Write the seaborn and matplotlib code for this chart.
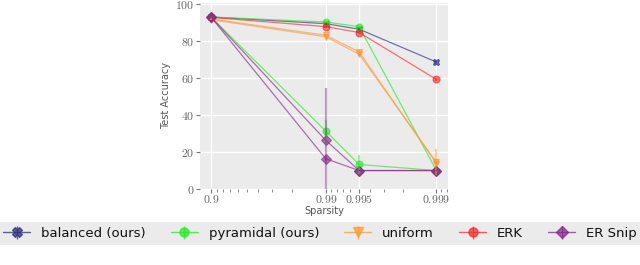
import numpy as np
import pandas as pd
import matplotlib
matplotlib.use("Agg")
import matplotlib.pyplot as plt
import seaborn as sns
from matplotlib.ticker import NullFormatter, FixedLocator

# ---------------- data ----------------
sparsity = [0.9, 0.99, 0.995, 0.999]
x_tick_labels = ["0.9", "0.99", "0.995", "0.999"]
x_minor_ticks = [0.91, 0.92, 0.93, 0.94, 0.95, 0.96, 0.97, 0.98,
                 0.991, 0.992, 0.993, 0.994, 0.996, 0.997, 0.998, 0.9991, 0.9992]
y_ticks = [0, 20, 40, 60, 80, 100]

methods = ["balanced (ours)", "pyramidal (ours)", "uniform", "ERK", "ER Snip"]

balanced_acc = [93.2, 89.6, 86.6, 68.8]
balanced_err = [0.4, 0.6, 0.6, 0.8]

pyramidal_acc_a = [93.2, 90.5, 88.0, 10.0]
pyramidal_err_a = [0.4, 0.6, 0.6, 0.2]
pyramidal_acc_b = [93.2, 31.4, 13.3, 10.0]
pyramidal_err_b = [0.4, 6.0, 5.0, 0.2]

uniform_acc_a = [91.8, 82.5, 73.0, 14.5]
uniform_err_a = [0.4, 0.6, 0.8, 7.0]
uniform_acc_b = [92.2, 83.3, 74.3, 13.8]
uniform_err_b = [0.4, 0.6, 0.8, 1.0]

erk_acc = [93.0, 88.0, 84.8, 59.4]
erk_err = [0.4, 0.6, 0.6, 0.8]

ersnip_acc_a = [93.2, 26.4, 10.0, 10.0]
ersnip_err_a = [0.4, 28.5, 0.3, 0.2]
ersnip_acc_b = [93.2, 16.4, 10.0, 10.0]
ersnip_err_b = [0.4, 1.0, 0.3, 0.2]

series = [
    ("balanced (ours)", "a", balanced_acc, balanced_err),
    ("pyramidal (ours)", "a", pyramidal_acc_a, pyramidal_err_a),
    ("pyramidal (ours)", "b", pyramidal_acc_b, pyramidal_err_b),
    ("uniform", "a", uniform_acc_a, uniform_err_a),
    ("uniform", "b", uniform_acc_b, uniform_err_b),
    ("ERK", "a", erk_acc, erk_err),
    ("ER Snip", "a", ersnip_acc_a, ersnip_err_a),
    ("ER Snip", "b", ersnip_acc_b, ersnip_err_b),
]

palette = {
    "balanced (ours)": "#2e2e80",
    "pyramidal (ours)": "#22ee22",
    "uniform": "#ff9a33",
    "ERK": "#ff2a2a",
    "ER Snip": "#8a2a8a",
}
markers = {
    "balanced (ours)": "X",
    "pyramidal (ours)": "o",
    "uniform": "v",
    "ERK": "o",
    "ER Snip": "D",
}

rows = []
for m, run, acc, err in series:
    for s, a in zip(sparsity, acc):
        rows.append({"method": m, "run": run, "sparsity": s, "acc": a})
df = pd.DataFrame(rows)

# ---------------- style ----------------
sns.set_theme(style="darkgrid", rc={
    "axes.facecolor": "#ebebeb",
    "grid.color": "white",
    "grid.linewidth": 1.0,
})
plt.rcParams["font.family"] = ["DejaVu Sans"]
plt.rcParams["mathtext.fontset"] = "cm"

fig = plt.figure(figsize=(6.4, 2.65), dpi=100)
ax = fig.add_axes([0.3125, 0.2868, 0.387, 0.7019])

sns.lineplot(data=df, x="sparsity", y="acc", hue="method", style="method",
             units="run", estimator=None, hue_order=methods, style_order=methods,
             palette=palette, markers=markers, dashes=False, sort=False,
             linewidth=0.9, markersize=5, alpha=0.65, legend=False, ax=ax)
for ln in ax.lines:
    ln.set_markeredgecolor(ln.get_color())
    ln.set_markeredgewidth(0.8)

for m, run, acc, err in series:
    ax.errorbar(sparsity, acc, yerr=err, fmt="none", ecolor=palette[m],
                elinewidth=1.6, alpha=0.45, capsize=0)

ax.set_xscale("logit")
ax.set_xlim(0.8774, 0.99921)
ax.set_ylim(0, 100.8)
ax.set_xticks(sparsity)
ax.set_xticklabels([f"${t}$" for t in x_tick_labels])
ax.xaxis.set_minor_locator(FixedLocator(x_minor_ticks))
ax.xaxis.set_minor_formatter(NullFormatter())
ax.set_yticks(y_ticks)
ax.set_yticklabels([f"${t}$" for t in y_ticks])
ax.grid(True, which="major", color="white", linewidth=1.0)
ax.grid(False, which="minor")
for sp in ax.spines.values():
    sp.set_visible(False)

ax.tick_params(axis="both", which="major", length=3, width=0.8, color="#777777",
               labelsize=8.5, labelcolor="#666666", bottom=True, left=True)
ax.tick_params(axis="x", which="major", pad=0)
ax.tick_params(axis="y", which="major", pad=1)
ax.tick_params(axis="x", which="minor", length=2, width=0.6, color="#777777",
               bottom=True)
ax.set_xlabel("Sparsity", fontsize=7, color="#555555", labelpad=0)
ax.set_ylabel("Test Accuracy", fontsize=7, color="#555555", labelpad=3)

# legend with errorbar-style handles
handles = []
for m in methods:
    h = ax.errorbar([np.nan], [np.nan], yerr=[1], color=palette[m],
                    marker=markers[m], markersize=6.5, linewidth=1.0,
                    elinewidth=1.0, alpha=0.75, mec=palette[m])
    handles.append(h)
leg = fig.legend(handles, methods, loc="center", bbox_to_anchor=(0.5, 1 - 233.5 / 265),
                 ncol=5, fontsize=9.5, handlelength=2.05, handletextpad=0.83,
                 columnspacing=1.9, borderpad=0.4, frameon=True, fancybox=False,
                 facecolor="#ebebeb", edgecolor="none", framealpha=1)
for t in leg.get_texts():
    t.set_color("#111111")

fig.savefig("out.png", dpi=100)
